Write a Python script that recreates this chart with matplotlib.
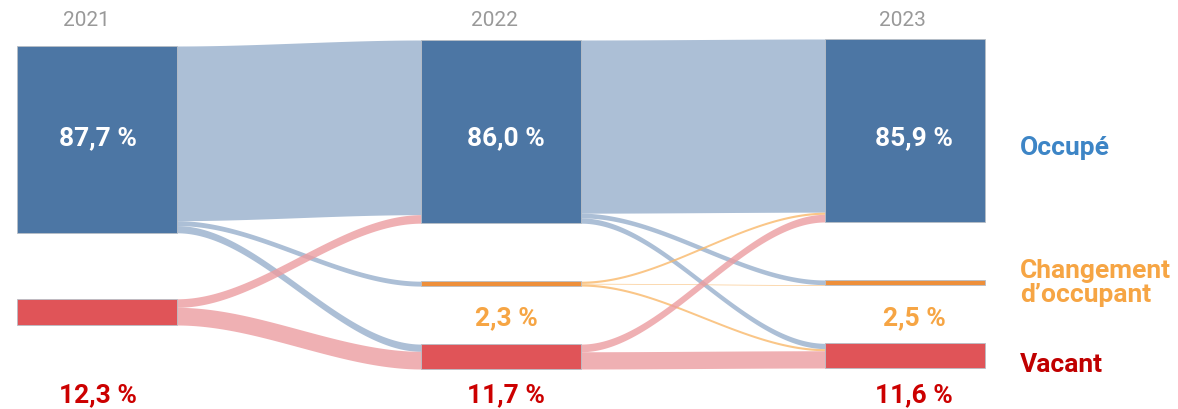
import numpy as np
import matplotlib
matplotlib.use("Agg")
import matplotlib.pyplot as plt
from matplotlib.patches import Rectangle

plt.rcParams['font.family'] = ['Roboto', 'DejaVu Sans']

# ---------------- data ----------------
years = ['2021', '2022', '2023']
categories = ['Occupé', 'Changement\nd’occupant', 'Vacant']
shares_2021 = [87.7, 0.0, 12.3]
shares_2022 = [86.0, 2.3, 11.7]
shares_2023 = [85.9, 2.5, 11.6]
# flows[source][target]
flows_2021_2022 = [[82.0, 2.3, 3.4],
                   [0.0, 0.0, 0.0],
                   [4.0, 0.0, 8.3]]
flows_2022_2023 = [[81.3, 2.2, 2.5],
                   [1.0, 0.3, 1.0],
                   [3.6, 0.0, 8.1]]

shares = [shares_2021, shares_2022, shares_2023]
flows = [flows_2021_2022, flows_2022_2023]

# ---------------- style / layout ----------------
node_colors = ['#4C76A4', '#EE8F3A', '#E05458']
flow_colors = ['#97AFCC', '#F9B86A', '#EC9CA0']
flow_alpha = 0.8
value_colors = ['white', '#F6A544', '#CC0000']
cat_colors = ['#3D85C6', '#F6A544', '#C00000']

W, H = 1178, 409
col_x = [17, 421, 825]
node_w = 160
scale = 2.13
col_top = [46, 40, 39]
col_gap = [66, 58, 58]
year_dx = [-11, -7, -3]
value_dx = [1, 5, 9]
value_label_y = [138, 318, 395]
cat_label_y = [148, 283, 365]

fig = plt.figure(figsize=(W / 100, H / 100), dpi=100)
ax = fig.add_axes([0, 0, 1, 1])
ax.set_xlim(0, W)
ax.set_ylim(H, 0)
ax.axis('off')

# node positions
node_pos = []
for c, col in enumerate(shares):
    y = col_top[c]
    pos = []
    for v in col:
        if v <= 0:
            pos.append(None)
            continue
        h = v * scale
        pos.append((y, y + h))
        y += h + col_gap[c]
    node_pos.append(pos)

def smooth(t):
    return 3 * t ** 2 - 2 * t ** 3

# flows
for c, fm in enumerate(flows):
    n = len(fm)
    src_off = [node_pos[c][i][0] if node_pos[c][i] else 0 for i in range(n)]
    tgt_off = [node_pos[c + 1][j][0] if node_pos[c + 1][j] else 0 for j in range(n)]
    segs = {}
    for i in range(n):
        for j in range(n):
            v = fm[i][j]
            if v <= 0:
                continue
            h = v * scale
            segs[(i, j)] = [src_off[i], src_off[i] + h]
            src_off[i] += h
    for j in range(n):
        for i in range(n):
            v = fm[i][j]
            if v <= 0:
                continue
            h = v * scale
            segs[(i, j)] += [tgt_off[j], tgt_off[j] + h]
            tgt_off[j] += h
    x0 = col_x[c] + node_w
    x1 = col_x[c + 1]
    xs = np.linspace(x0, x1, 200)
    t = smooth((xs - x0) / (x1 - x0))
    for (i, j), (s0, s1, t0, t1) in segs.items():
        top = s0 + (t0 - s0) * t
        bot = s1 + (t1 - s1) * t
        ax.fill_between(xs, top, bot, color=flow_colors[i], alpha=flow_alpha,
                        linewidth=0, zorder=1)

# nodes
for c, pos in enumerate(node_pos):
    for k, p in enumerate(pos):
        if p is None:
            continue
        ax.add_patch(Rectangle((col_x[c], p[0]), node_w, p[1] - p[0],
                               facecolor=node_colors[k], edgecolor='#B8BEC6',
                               linewidth=0.6, zorder=3))

# year labels
for c, yr in enumerate(years):
    ax.text(col_x[c] + node_w / 2 + year_dx[c], 21, yr, ha='center',
            va='center', fontsize=15, color='#999999', zorder=4)

def fmt(v):
    return f"{v:.1f} %".replace('.', ',')

# value labels
for c, col in enumerate(shares):
    for k, v in enumerate(col):
        if v <= 0:
            continue
        ax.text(col_x[c] + node_w / 2 + value_dx[c], value_label_y[k], fmt(v),
                ha='center', va='center', fontsize=19, fontweight='bold',
                color=value_colors[k], zorder=4)

# category labels
for k, name in enumerate(categories):
    ax.text(1020, cat_label_y[k], name, ha='left', va='center', fontsize=19,
            fontweight='bold', color=cat_colors[k], linespacing=1.05, zorder=4)

fig.savefig('out.png', dpi=100)
